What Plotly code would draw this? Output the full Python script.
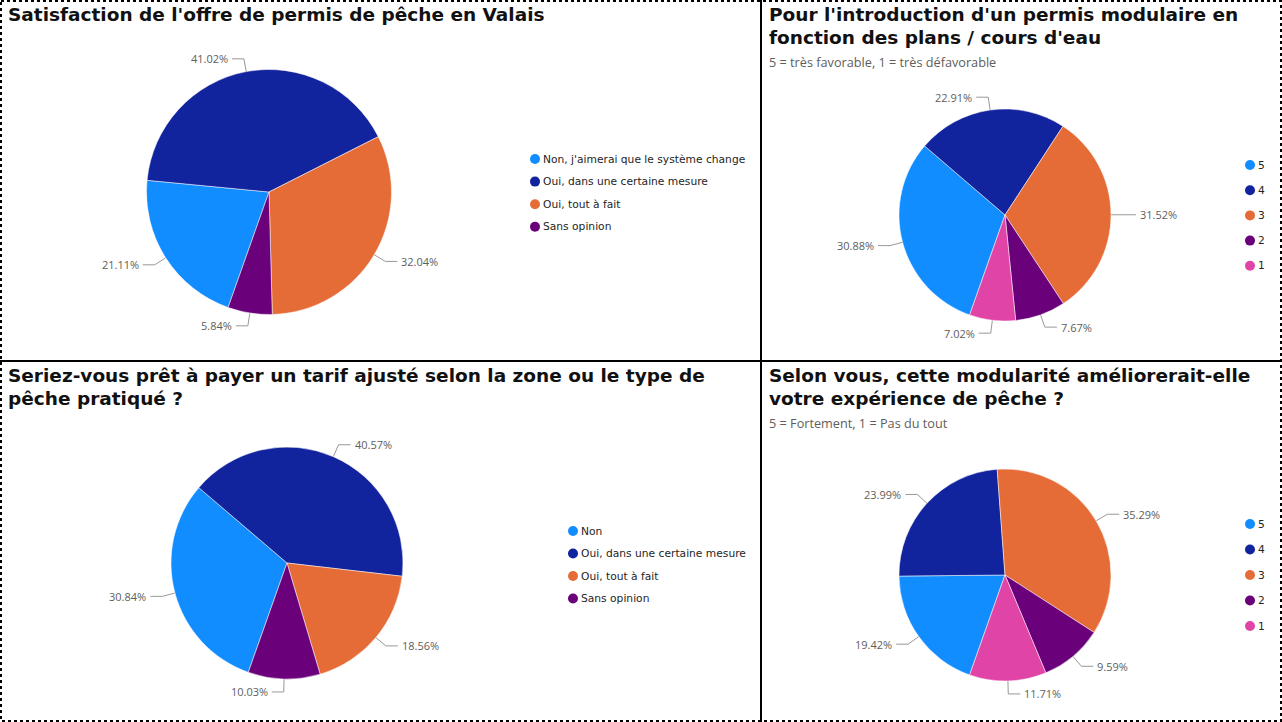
import math

import plotly.graph_objects as go

W, H = 1282, 722

PIE_COLORS = ["#118DFF", "#12239E", "#E66C37", "#6B007B", "#E044A7"]
START_ANGLE = 199.5  # first slice starts here (deg, clockwise from 12 o'clock)

# --- data -----------------------------------------------------------------
sat_labels = [
    "Non, j'aimerai que le système change",
    "Oui, dans une certaine mesure",
    "Oui, tout à fait",
    "Sans opinion",
]
sat_values = [21.11, 41.02, 32.04, 5.84]
sat_title = ["Satisfaction de l'offre de permis de pêche en Valais"]

mod_labels = ["5", "4", "3", "2", "1"]
mod_values = [30.88, 22.91, 31.52, 7.67, 7.02]
mod_title = ["Pour l'introduction d'un permis modulaire en", "fonction des plans / cours d'eau"]
mod_subtitle = "5 = très favorable, 1 = très défavorable"

tarif_labels = ["Non", "Oui, dans une certaine mesure", "Oui, tout à fait", "Sans opinion"]
tarif_values = [30.84, 40.57, 18.56, 10.03]
tarif_title = ["Seriez-vous prêt à payer un tarif ajusté selon la zone ou le type de", "pêche pratiqué ?"]

exp_labels = ["5", "4", "3", "2", "1"]
exp_values = [19.42, 23.99, 35.29, 9.59, 11.71]
exp_title = ["Selon vous, cette modularité améliorerait-elle", "votre expérience de pêche ?"]
exp_subtitle = "5 = Fortement, 1 = Pas du tout"

# --- layout of the four visuals (pixels) ----------------------------------
panels = [
    dict(labels=sat_labels, values=sat_values, title=sat_title, subtitle=None,
         x0=0, y0=0, cx=269, cy=192, r=122.5, lx=535, ly=159, lstep=22.6),
    dict(labels=mod_labels, values=mod_values, title=mod_title, subtitle=mod_subtitle,
         x0=761, y0=0, cx=1005, cy=215, r=106, lx=1250, ly=165, lstep=25.2),
    dict(labels=tarif_labels, values=tarif_values, title=tarif_title, subtitle=None,
         x0=0, y0=361, cx=287, cy=563, r=116, lx=573, ly=531, lstep=22.5),
    dict(labels=exp_labels, values=exp_values, title=exp_title, subtitle=exp_subtitle,
         x0=761, y0=361, cx=1005, cy=575, r=106, lx=1250, ly=524, lstep=25.5),
]

TITLE_FONT = dict(family="DejaVu Sans", size=18.5, color="#111111")
SUB_FONT = dict(family="Open Sans", size=12.7, color="#605E5C")
LABEL_FONT = dict(family="Open Sans", size=11, color="#605E5C")
LEGEND_FONT = dict(family="DejaVu Sans", size=10.7, color="#252423")

fig = go.Figure()
annotations = []

for p in panels:
    n = len(p["values"])
    colors = PIE_COLORS[:n]
    cx, cy, r = p["cx"], p["cy"], p["r"]
    fig.add_trace(
        go.Pie(
            labels=p["labels"],
            values=p["values"],
            sort=False,
            direction="clockwise",
            rotation=START_ANGLE,
            textinfo="none",
            marker=dict(colors=colors, line=dict(color="white", width=0.5)),
            domain=dict(x=[(cx - r) / W, (cx + r) / W], y=[1 - (cy + r) / H, 1 - (cy - r) / H]),
            showlegend=False,
            hovertemplate="%{label}: %{value:.2f}%<extra></extra>",
        )
    )

    # leader lines + percentage labels
    total = sum(p["values"])
    cum = 0.0
    lx, ly = [], []
    for v in p["values"]:
        theta = math.radians(START_ANGLE + (cum + v / 2) / total * 360)
        cum += v
        s, c = math.sin(theta), -math.cos(theta)
        side = 1 if s >= 0 else -1
        ex, ey = cx + (r + 13) * s, cy + (r + 13) * c
        hx = ex + side * 12
        lx += [cx + r * s, ex, hx, None]
        ly += [cy + r * c, ey, ey, None]
        annotations.append(dict(
            x=hx + side * 2, y=ey, xref="x", yref="y", text=f"{v:.2f}%", showarrow=False,
            xanchor="left" if side > 0 else "right", yanchor="middle", font=LABEL_FONT,
        ))
    fig.add_trace(go.Scatter(x=lx, y=ly, mode="lines", line=dict(color="#9a9896", width=1),
                             hoverinfo="skip", showlegend=False))

    # legend (circle markers)
    leg_y = [p["ly"] + i * p["lstep"] for i in range(n)]
    fig.add_trace(go.Scatter(x=[p["lx"]] * n, y=leg_y, mode="markers",
                             marker=dict(color=colors, size=10), hoverinfo="skip", showlegend=False))
    for lab, yy in zip(p["labels"], leg_y):
        annotations.append(dict(x=p["lx"] + 6, y=yy, xref="x", yref="y", text=lab, showarrow=False,
                                xanchor="left", yanchor="middle", font=LEGEND_FONT))

    # titles
    for i, line in enumerate(p["title"]):
        annotations.append(dict(x=p["x0"] + 6, y=p["y0"] + 14 + i * 23, xref="x", yref="y",
                                text=f"<b>{line}</b>", showarrow=False, xanchor="left",
                                yanchor="middle", font=TITLE_FONT))
    if p["subtitle"]:
        annotations.append(dict(x=p["x0"] + 6, y=p["y0"] + 61.5, xref="x", yref="y",
                                text=p["subtitle"], showarrow=False, xanchor="left",
                                yanchor="middle", font=SUB_FONT))

shapes = [
    dict(type="rect", xref="x", yref="y", x0=1, y0=1, x1=W - 1, y1=H - 1,
         line=dict(color="black", width=2, dash="dot")),
    dict(type="line", xref="x", yref="y", x0=761, x1=761, y0=0, y1=H, line=dict(color="black", width=2)),
    dict(type="line", xref="x", yref="y", x0=0, x1=W, y0=361, y1=361, line=dict(color="black", width=2)),
]

fig.update_layout(
    width=W,
    height=H,
    margin=dict(l=0, r=0, t=0, b=0),
    paper_bgcolor="white",
    plot_bgcolor="rgba(0,0,0,0)",
    xaxis=dict(range=[0, W], visible=False, fixedrange=True),
    yaxis=dict(range=[H, 0], visible=False, fixedrange=True),
    annotations=annotations,
    shapes=shapes,
    showlegend=False,
)

fig.write_html(
    "out.html",
    config={"displayModeBar": False},
    post_script="document.body.style.margin='0';document.body.style.overflow='hidden';",
)
